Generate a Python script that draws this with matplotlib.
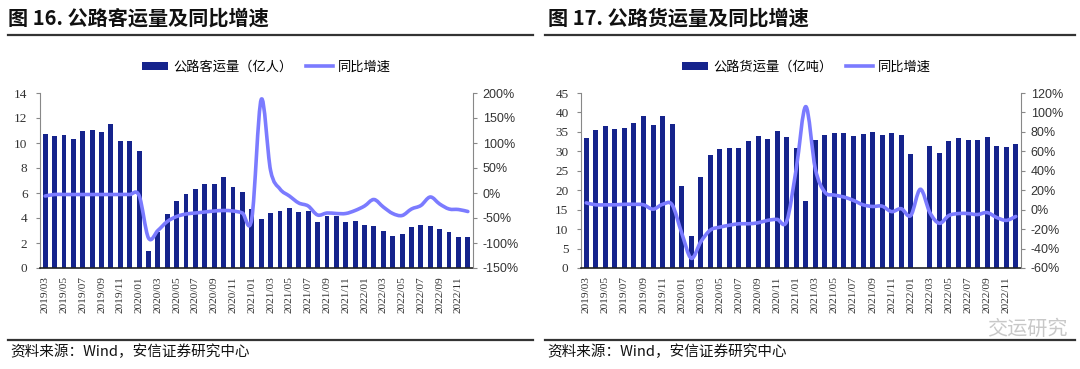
import numpy as np
import matplotlib
matplotlib.use("Agg")
import matplotlib.pyplot as plt
from matplotlib.path import Path
from matplotlib.patches import PathPatch, Patch
from matplotlib.lines import Line2D

# months 2019/03 .. 2022/12
months = [f"{y}/{m:02d}" for y in range(2019, 2023) for m in range(1, 13)][2:]

# 图16 公路客运量 (亿人) and 同比 (%)
passenger = [10.7, 10.6, 10.65, 10.35, 10.95, 11.05, 10.9, 11.5, 10.2, 10.15,
             9.35, 1.4, 2.9, 4.35, 5.4, 5.95, 6.3, 6.7, 6.75, 7.3, 6.45, 6.1,
             4.7, 3.95, 4.42, 4.6, 4.84, 4.5, 4.6, 3.67, 4.13, 4.2, 3.67, 3.78,
             3.46, 3.4, 3.0, 2.6, 2.74, 3.25, 3.46, 3.35, 3.1, 2.85, 2.45, 2.45]
passenger_yoy = [-6, -3, -3, -3, -3, -3, -3, -3, -3, -3,
                 -5, -90, -75, -57, -47, -42, -40, -38, -36, -35, -36, -40,
                 -51, 187, 45, 8, -6, -20, -26, -44, -40, -41, -41, -35,
                 -26, -13, -28, -41, -45, -32, -25, -8, -22, -32, -33, -37]

# 图17 公路货运量 (亿吨) and 同比 (%)
freight = [33.4, 35.6, 36.6, 35.8, 36.1, 37.4, 39.0, 36.9, 39.2, 37.0,
           21.2, 8.2, 23.5, 29.0, 30.5, 30.9, 30.8, 32.6, 34.0, 33.2, 35.2, 33.6,
           30.8, 17.2, 32.8, 34.3, 34.7, 34.7, 33.9, 34.4, 34.9, 34.2, 34.7, 34.2,
           29.3, np.nan, 31.3, 29.6, 32.7, 33.4, 32.8, 32.9, 33.6, 31.5, 31.1, 31.9]
freight_yoy = [7, 5, 5, 5, 5.5, 5.5, 5, 0.5, 5.5, 5,
               -24, -50, -33, -21, -18, -16, -14.5, -14.5, -13.5, -11, -10, -12,
               42, 106, 42, 18, 15, 13, 9.5, 5, 3.3, 3.6, -2, 1,
               -6, 21, -3, -14, -6, -4, -4, -5, -3, -8, -11, -7]

BAR = "#15238c"
LINE = "#7b7bff"
CJK = ["Noto Sans CJK SC", "DejaVu Sans"]
W, H = 1080, 369


def smooth_path(x, y):
    # Excel-style smoothed line: Catmull-Rom segments as cubic Beziers
    pts = np.column_stack([x, y]).astype(float)
    verts = [pts[0]]
    codes = [Path.MOVETO]
    n = len(pts)
    for i in range(n - 1):
        p0 = pts[max(i - 1, 0)]
        p1 = pts[i]
        p2 = pts[i + 1]
        p3 = pts[min(i + 2, n - 1)]
        verts += [p1 + (p2 - p0) / 6, p2 - (p3 - p1) / 6, p2]
        codes += [Path.CURVE4] * 3
    return Path(verts, codes)


fig = plt.figure(figsize=(W / 100, H / 100), dpi=100)
fig.patch.set_facecolor("white")

specs = [
    dict(title="图 16. 公路客运量及同比增速", bars=passenger, yoy=passenger_yoy,
         bar_label="公路客运量（亿人）", ax_l=40, ax_r=473, tx=8, lx0=8, lx1=533,
         ylim=(0, 14), yticks=np.arange(0, 15, 2), rlim=(-150, 200),
         rticks=np.arange(-150, 201, 50), leg_x=142),
    dict(title="图 17. 公路货运量及同比增速", bars=freight, yoy=freight_yoy,
         bar_label="公路货运量（亿吨）", ax_l=581, ax_r=1021, tx=548, lx0=545, lx1=1075,
         ylim=(0, 45), yticks=np.arange(0, 46, 5), rlim=(-60, 120),
         rticks=np.arange(-60, 121, 20), leg_x=682),
]

x = np.arange(len(months))
for s in specs:
    fig.text(s["tx"] / W, 1 - 18 / H, s["title"], fontsize=14.5, fontweight="bold",
             family=CJK, va="center", ha="left", color="#111111")
    for yy in (35, 340):
        fig.add_artist(Line2D([s["lx0"] / W, s["lx1"] / W], [1 - yy / H] * 2,
                              color="#333333", lw=1.6))
    fig.text((s["lx0"] + 2) / W, 1 - 352 / H, "资料来源：Wind，安信证券研究中心",
             fontsize=10.5, family=CJK, va="center", color="#111111")

    ax = fig.add_axes([s["ax_l"] / W, (H - 268) / H,
                       (s["ax_r"] - s["ax_l"]) / W, 175 / H])
    ax.bar(x, s["bars"], width=0.52, color=BAR, zorder=2)
    ax.set_xlim(-0.55, len(months) - 0.45)
    ax.set_ylim(*s["ylim"])
    ax.set_yticks(s["yticks"])
    ax.set_yticklabels([str(v) for v in s["yticks"]], family="Liberation Serif",
                       fontsize=9.5, color="#333333")
    ax.set_xticks(x[::2])
    ax.set_xticklabels(months[::2], rotation=90, family="Liberation Serif",
                       fontsize=8.2, color="#333333")
    ax.set_xticks(x, minor=True)
    ax.tick_params(axis="x", which="both", length=0, pad=6)
    ax.tick_params(axis="y", length=3, color="#888888", width=0.8, pad=6)
    for sp in ("top", "right"):
        ax.spines[sp].set_visible(False)
    ax.spines["left"].set_color("#888888")
    ax.spines["left"].set_linewidth(0.8)
    ax.spines["bottom"].set_color("#222222")
    ax.spines["bottom"].set_linewidth(1.2)

    ax2 = ax.twinx()
    ax2.set_ylim(*s["rlim"])
    ax2.set_yticks(s["rticks"])
    ax2.set_yticklabels([f"{v}%" for v in s["rticks"]], family="Liberation Sans",
                        fontsize=9, color="#333333")
    ax2.tick_params(axis="y", length=3, color="#888888", width=0.8, pad=4)
    for sp in ("top", "left", "bottom"):
        ax2.spines[sp].set_visible(False)
    ax2.spines["right"].set_color("#888888")
    ax2.spines["right"].set_linewidth(0.8)
    ax2.add_patch(PathPatch(smooth_path(x, s["yoy"]), facecolor="none",
                            edgecolor=LINE, lw=2.6, capstyle="round",
                            joinstyle="round", zorder=3))

    handles = [Patch(facecolor=BAR, edgecolor="none"),
               Line2D([], [], color=LINE, lw=2.6)]
    fig.legend(handles, [s["bar_label"], "同比增速"], loc="center left",
               bbox_to_anchor=(s["leg_x"] / W, 1 - 67 / H), ncol=2, frameon=False,
               prop={"family": CJK, "size": 9.5}, handlelength=2.0,
               handleheight=0.6, columnspacing=1.0, handletextpad=0.4,
               borderaxespad=0, borderpad=0)

fig.text(1068 / W, 1 - 329 / H, "交运研究", fontsize=14.5, family=CJK,
         ha="right", va="center", color="#bbbbbb", alpha=0.8)

fig.savefig("out.png", dpi=100, facecolor="white")
